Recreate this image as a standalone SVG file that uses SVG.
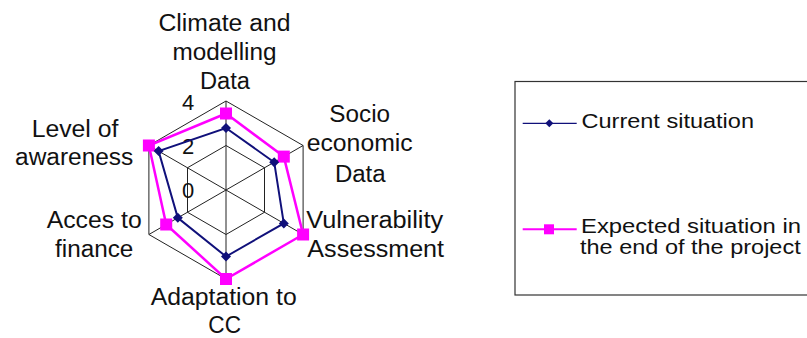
<svg xmlns="http://www.w3.org/2000/svg" width="807" height="338" viewBox="0 0 807 338">
  <style>
    text { font-family: "Liberation Sans", Arial, sans-serif; fill: #111; }
    .lbl { font-size: 23.5px; text-anchor: middle; }
    .tick { font-size: 22px; text-anchor: middle; }
    .leg { font-size: 19.5px; }
    .grid { fill: none; stroke: #222; stroke-width: 1; }
    .cur { fill: none; stroke: #10107a; stroke-width: 2; stroke-linejoin: miter; }
    .exp { fill: none; stroke: #ff00ff; stroke-width: 2.5; stroke-linejoin: miter; }
  </style>
  <defs>
    <path id="dia" d="M0,-5 L5,0 L0,5 L-5,0 Z" fill="#10107a"/>
    <rect id="sq" x="-6" y="-6" width="12" height="12" fill="#ff00ff"/>
  </defs>
  <rect width="807" height="338" fill="#fff"/>

  <!-- radar grid: rings at 2 and 4, six spokes -->
  <g id="grid">
    <polygon class="grid" points="226,101 303.1,145.5 303.1,234.5 226,279 148.9,234.5 148.9,145.5"/>
    <polygon class="grid" points="226,145.5 264.5,167.75 264.5,212.25 226,234.5 187.5,212.25 187.5,167.75"/>
    <path class="grid" d="M226,190 L226,101 M226,190 L303.1,145.5 M226,190 L303.1,234.5 M226,190 L226,279 M226,190 L148.9,234.5 M226,190 L148.9,145.5"/>
  </g>

  <!-- axis values -->
  <g id="ticks">
    <text class="tick" x="188" y="110">4</text>
    <text class="tick" x="188" y="154">2</text>
    <text class="tick" x="188" y="198">0</text>
  </g>

  <!-- series -->
  <g id="series-expected">
    <polygon class="exp" points="226,113.5 283.8,156.6 303.1,234.5 226,279 166.2,224.5 148.9,145.5"/>
    <use href="#sq" x="226" y="113.5"/>
    <use href="#sq" x="283.8" y="156.6"/>
    <use href="#sq" x="303.1" y="234.5"/>
    <use href="#sq" x="226" y="279"/>
    <use href="#sq" x="166.2" y="224.5"/>
    <use href="#sq" x="148.9" y="145.5"/>
  </g>
  <g id="series-current">
    <polygon class="cur" points="226,128 274.2,162.2 283.8,223.4 226,256.5 177.8,217.8 158.6,151.1"/>
    <use href="#dia" x="226" y="128"/>
    <use href="#dia" x="274.2" y="162.2"/>
    <use href="#dia" x="283.8" y="223.4"/>
    <use href="#dia" x="226" y="256.5"/>
    <use href="#dia" x="177.8" y="217.8"/>
    <use href="#dia" x="158.6" y="151.1"/>
  </g>

  <!-- category labels -->
  <g id="axis-climate">
    <text class="lbl" x="224.5" y="30.7" textLength="132" lengthAdjust="spacingAndGlyphs">Climate and</text>
    <text class="lbl" x="224.5" y="60" textLength="104" lengthAdjust="spacingAndGlyphs">modelling</text>
    <text class="lbl" x="225" y="89.3" textLength="50" lengthAdjust="spacingAndGlyphs">Data</text>
  </g>
  <g id="axis-socio">
    <text class="lbl" x="359.7" y="122.3" textLength="60.7" lengthAdjust="spacingAndGlyphs">Socio</text>
    <text class="lbl" x="359.7" y="151" textLength="106" lengthAdjust="spacingAndGlyphs">economic</text>
    <text class="lbl" x="360.3" y="181.7" textLength="50.7" lengthAdjust="spacingAndGlyphs">Data</text>
  </g>
  <g id="axis-vulnerability">
    <text class="lbl" x="374.7" y="227.7" textLength="137" lengthAdjust="spacingAndGlyphs">Vulnerability</text>
    <text class="lbl" x="375.7" y="256.7" textLength="136.7" lengthAdjust="spacingAndGlyphs">Assessment</text>
  </g>
  <g id="axis-adaptation">
    <text class="lbl" x="223.7" y="305" textLength="146" lengthAdjust="spacingAndGlyphs">Adaptation to</text>
    <text class="lbl" x="224.7" y="333.3" textLength="32.7" lengthAdjust="spacingAndGlyphs">CC</text>
  </g>
  <g id="axis-finance">
    <text class="lbl" x="94.2" y="228.3" textLength="95" lengthAdjust="spacingAndGlyphs">Acces to</text>
    <text class="lbl" x="94.2" y="256.7" textLength="78.3" lengthAdjust="spacingAndGlyphs">finance</text>
  </g>
  <g id="axis-awareness">
    <text class="lbl" x="75" y="136.7" textLength="86.7" lengthAdjust="spacingAndGlyphs">Level of</text>
    <text class="lbl" x="74.2" y="165" textLength="118.3" lengthAdjust="spacingAndGlyphs">awareness</text>
  </g>

  <!-- legend -->
  <g id="legend">
    <rect x="515" y="81.5" width="300" height="213.5" fill="#fff" stroke="#333" stroke-width="1.2"/>
    <line x1="522.7" y1="123.3" x2="576.7" y2="123.3" stroke="#10107a" stroke-width="1.3"/>
    <path d="M549.3,119.3 L553.3,123.3 L549.3,127.3 L545.3,123.3 Z" fill="#10107a"/>
    <text class="leg" x="581.5" y="128.3" textLength="172.5" lengthAdjust="spacingAndGlyphs">Current situation</text>
    <line x1="522.7" y1="229.3" x2="576.7" y2="229.3" stroke="#ff00ff" stroke-width="2"/>
    <rect x="544" y="224.3" width="10" height="10" fill="#ff00ff"/>
    <text class="leg" x="581" y="233" textLength="220" lengthAdjust="spacingAndGlyphs">Expected situation in</text>
    <text class="leg" x="580" y="253.5" textLength="220.7" lengthAdjust="spacingAndGlyphs">the end of the project</text>
  </g>
</svg>
